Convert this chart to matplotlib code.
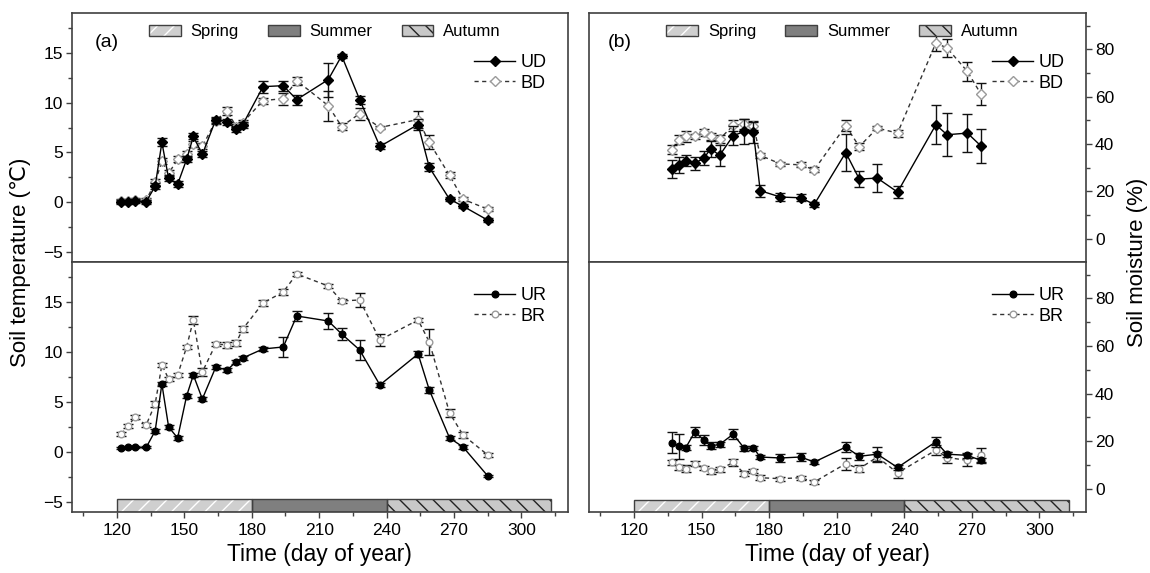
import matplotlib
matplotlib.use('Agg')
import matplotlib.pyplot as plt
from matplotlib.patches import Patch
from matplotlib.ticker import MultipleLocator
import numpy as np

plt.rcParams['font.family'] = ['Liberation Sans', 'DejaVu Sans']
plt.rcParams['hatch.linewidth'] = 1.0

# sampling days (day of year)
days = np.array([122, 125, 128, 133, 137, 140, 143, 147, 151, 154, 158, 164, 169,
                 173, 176, 185, 194, 200, 214, 220, 228, 237, 254, 259, 268, 274, 285])
days_m = days[4:26]

# soil temperature, dune sites
t_ud = [0.0, 0.05, 0.1, 0.05, 1.6, 6.0, 2.4, 1.8, 4.3, 6.6, 4.8, 8.3, 8.1, 7.3, 7.8,
        11.6, 11.7, 10.3, 12.3, 14.7, 10.3, 5.6, 7.8, 3.5, 0.3, -0.4, -1.8]
t_ud_err = [0.2, 0.2, 0.2, 0.2, 0.3, 0.4, 0.3, 0.3, 0.3, 0.3, 0.3, 0.3, 0.3, 0.3, 0.3,
            0.6, 0.5, 0.5, 1.7, 0.2, 0.4, 0.3, 0.6, 0.4, 0.2, 0.2, 0.2]
t_bd = [0.1, 0.1, 0.2, 0.2, 2.0, 4.1, 2.9, 4.3, 4.8, 5.8, 5.6, 8.2, 9.2, 7.6, 8.0,
        10.2, 10.4, 12.2, 9.7, 7.6, 8.9, 7.5, 8.3, 6.0, 2.7, 0.3, -0.7]
t_bd_err = [0.2, 0.2, 0.2, 0.2, 0.3, 0.3, 0.3, 0.3, 0.3, 0.3, 0.3, 0.3, 0.4, 0.3, 0.3,
            0.3, 0.6, 0.4, 1.5, 0.4, 0.6, 0.2, 0.9, 0.7, 0.3, 0.2, 0.2]

# soil temperature, river sites
t_ur = [0.4, 0.45, 0.45, 0.45, 2.1, 6.8, 2.5, 1.4, 5.6, 7.7, 5.3, 8.5, 8.2, 9.0, 9.4,
        10.3, 10.5, 13.6, 13.1, 11.8, 10.2, 6.7, 9.8, 6.2, 1.4, 0.5, -2.4]
t_ur_err = [0.1, 0.1, 0.1, 0.1, 0.2, 0.2, 0.2, 0.2, 0.2, 0.2, 0.2, 0.2, 0.2, 0.2, 0.2,
            0.2, 1.0, 0.5, 0.8, 0.6, 1.0, 0.2, 0.3, 0.3, 0.2, 0.2, 0.1]
t_br = [1.8, 2.6, 3.5, 2.7, 4.8, 8.7, 7.3, 7.7, 10.5, 13.2, 8.0, 10.8, 10.7, 10.9, 12.3,
        14.9, 16.0, 17.8, 16.6, 15.1, 15.2, 11.2, 13.2, 11.0, 3.9, 1.7, -0.3]
t_br_err = [0.2, 0.2, 0.2, 0.2, 0.3, 0.2, 0.2, 0.2, 0.2, 0.4, 0.4, 0.2, 0.3, 0.3, 0.3,
            0.3, 0.3, 0.2, 0.2, 0.2, 0.7, 0.6, 0.2, 1.3, 0.4, 0.3, 0.2]

# soil moisture, dune sites
m_ud = [29.5, 31.2, 33.0, 31.9, 34.0, 38.0, 35.2, 43.5, 45.3, 44.9, 20.3,
        17.6, 17.3, 14.5, 36.4, 25.2, 25.6, 19.7, 48.1, 43.9, 44.6, 39.2]
m_ud_err = [3.8, 3.5, 2.5, 2.8, 3.0, 3.3, 4.4, 4.0, 5.3, 4.5, 2.5,
            1.5, 1.5, 1.0, 7.7, 3.2, 5.8, 2.5, 8.3, 9.0, 8.0, 7.1]
m_bd = [37.6, 41.8, 43.2, 43.2, 44.9, 43.2, 42.1, 47.8, 48.5, 47.7, 35.2,
        31.6, 31.2, 29.1, 47.7, 38.9, 46.7, 44.6, 82.6, 80.5, 70.6, 61.1]
m_bd_err = [2.0, 2.0, 2.3, 1.0, 1.5, 1.5, 1.5, 2.5, 2.0, 2.0, 1.0,
            1.0, 1.0, 1.0, 2.3, 1.5, 1.0, 1.5, 3.5, 3.9, 3.9, 4.5]

# soil moisture, river sites
m_ur = [19.4, 17.8, 17.3, 23.9, 20.4, 18.0, 18.6, 22.9, 16.9, 17.1, 13.3,
        12.9, 13.3, 11.2, 17.5, 13.6, 14.5, 8.9, 19.7, 14.5, 14.0, 11.9]
m_ur_err = [4.6, 5.2, 1.0, 2.0, 2.0, 1.5, 1.0, 2.0, 1.0, 1.0, 1.0,
            1.5, 1.5, 1.0, 2.0, 1.5, 3.0, 1.0, 2.0, 1.0, 1.0, 1.0]
m_br = [11.0, 8.9, 8.4, 10.5, 8.7, 7.3, 8.1, 11.0, 6.3, 7.4, 4.6,
        4.2, 4.6, 2.8, 10.5, 8.4, 13.3, 6.6, 16.2, 13.1, 11.9, 14.0]
m_br_err = [1.0, 1.0, 1.5, 1.0, 1.0, 1.0, 1.0, 1.5, 1.0, 1.0, 1.0,
            0.8, 0.8, 0.8, 2.5, 1.5, 2.0, 2.0, 2.0, 2.5, 2.5, 3.0]

# seasons
seasons = ['Spring', 'Summer', 'Autumn']
season_start = [120, 180, 240]
season_end = [180, 240, 313]
season_face = ['#cfcfcf', '#7f7f7f', '#c8c8c8']
season_hatch = ['//', None, '\\\\']
season_hcolor = ['white', None, '#222222']

FRAME = '#404040'


def season_patches(ax, y0, h):
    for s0, s1, fc, ht, hc in zip(season_start, season_end, season_face,
                                  season_hatch, season_hcolor):
        if ht:
            ax.bar(s0, h, width=s1 - s0, bottom=y0, align='edge', color=fc,
                   hatch=ht, edgecolor=hc, linewidth=0, zorder=1)
        else:
            ax.bar(s0, h, width=s1 - s0, bottom=y0, align='edge', color=fc,
                   linewidth=0, zorder=1)
        ax.bar(s0, h, width=s1 - s0, bottom=y0, align='edge', fill=False,
               edgecolor=FRAME, linewidth=1, zorder=1.5)


def season_legend(ax):
    handles = []
    for fc, ht, hc in zip(season_face, season_hatch, season_hcolor):
        if ht:
            h = (Patch(facecolor=fc, hatch=ht, edgecolor=hc, linewidth=0),
                 Patch(fill=False, edgecolor=FRAME, linewidth=1))
        else:
            h = Patch(facecolor=fc, edgecolor=FRAME, linewidth=1)
        handles.append(h)
    leg = ax.legend(handles, seasons, loc='upper center', bbox_to_anchor=(0.51, 1.015),
                    ncol=3, frameon=False, fontsize=12, handlelength=1.9,
                    handleheight=0.7, handletextpad=0.6, columnspacing=1.75)
    ax.add_artist(leg)


def series(ax, x, y, err, marker, filled, ms, label):
    if filled:
        kw = dict(color='black', mfc='black', mec='black', ls='-')
    else:
        kw = dict(color='#333333', mfc='white', mec='#9a9a9a', ls=(0, (3, 2.5)))
    ax.errorbar(x, y, yerr=err, fmt='none', ecolor='#111111', elinewidth=1,
                capsize=3.5, capthick=1, zorder=3 if filled else 2)
    ax.plot(x, y, marker=marker, ms=ms, lw=1, mew=1, label=label,
            zorder=4 if filled else 2.5, **kw)


def style_axes(ax, right=False, bottom=False, ylim=(-6, 19), ymaj=5, ymin=2.5):
    ax.set_xlim(100, 320.7)
    ax.set_ylim(*ylim)
    ax.xaxis.set_major_locator(MultipleLocator(30))
    ax.xaxis.set_minor_locator(MultipleLocator(15))
    ax.yaxis.set_major_locator(MultipleLocator(ymaj))
    ax.yaxis.set_minor_locator(MultipleLocator(ymin))
    for sp in ax.spines.values():
        sp.set_color(FRAME)
        sp.set_linewidth(1.2)
    ax.tick_params(which='both', direction='out', colors=FRAME, labelcolor='black',
                   labelsize=12.5, width=1)
    ax.tick_params(which='major', length=4.5)
    ax.tick_params(which='minor', length=3)
    if right:
        ax.yaxis.tick_right()
        ax.tick_params(axis='y', which='both', left=False, right=True,
                       labelleft=False, labelright=True, pad=2)
    else:
        ax.tick_params(axis='y', which='both', right=False, pad=2)
    ax.tick_params(axis='x', which='both', top=False)
    if not bottom:
        ax.tick_params(axis='x', which='both', bottom=False, labelbottom=False)


fig = plt.figure(figsize=(11.5, 5.73), dpi=100)

ax_a1 = fig.add_axes([0.0626, 0.5428, 0.4313, 0.4346])
ax_a2 = fig.add_axes([0.0626, 0.1065, 0.4313, 0.4363])
ax_b1 = fig.add_axes([0.5122, 0.5428, 0.4322, 0.4346])
ax_b2 = fig.add_axes([0.5122, 0.1065, 0.4322, 0.4363])

# (a) soil temperature
series(ax_a1, days, t_bd, t_bd_err, 'D', False, 5, 'BD')
series(ax_a1, days, t_ud, t_ud_err, 'D', True, 5, 'UD')
series(ax_a2, days, t_br, t_br_err, 'o', False, 4.8, 'BR')
series(ax_a2, days, t_ur, t_ur_err, 'o', True, 4.8, 'UR')
season_patches(ax_a2, -6, 1.25)

# (b) soil moisture
series(ax_b1, days_m, m_bd, m_bd_err, 'D', False, 5, 'BD')
series(ax_b1, days_m, m_ud, m_ud_err, 'D', True, 5, 'UD')
series(ax_b2, days_m, m_br, m_br_err, 'o', False, 4.8, 'BR')
series(ax_b2, days_m, m_ur, m_ur_err, 'o', True, 4.8, 'UR')
season_patches(ax_b2, -9.8, 5.2)

style_axes(ax_a1)
style_axes(ax_a2, bottom=True)
style_axes(ax_b1, right=True, ylim=(-9.8, 95.3), ymaj=20, ymin=10)
style_axes(ax_b2, right=True, bottom=True, ylim=(-9.8, 95.3), ymaj=20, ymin=10)

for ax in (ax_a1, ax_b1):
    season_legend(ax)

for ax in (ax_a1, ax_a2, ax_b1, ax_b2):
    h, l = ax.get_legend_handles_labels()
    anchor = (0.99, 0.90) if ax in (ax_a1, ax_b1) else (0.99, 0.965)
    ax.legend(h[::-1], l[::-1], loc='upper right', bbox_to_anchor=anchor,
              frameon=False, fontsize=13, handlelength=2.3, handletextpad=0.3,
              labelspacing=0.2, numpoints=1)

ax_a1.text(0.046, 0.88, '(a)', transform=ax_a1.transAxes, fontsize=14,
           ha='left', va='center')
ax_b1.text(0.038, 0.88, '(b)', transform=ax_b1.transAxes, fontsize=14,
           ha='left', va='center')

fig.text(0.018, 0.542, 'Soil temperature (℃)', rotation=90, fontsize=16,
         ha='center', va='center')
fig.text(0.989, 0.542, 'Soil moisture (%)', rotation=90, fontsize=16,
         ha='center', va='center')
fig.text(0.278, 0.033, 'Time (day of year)', fontsize=16.5, ha='center', va='center')
fig.text(0.728, 0.033, 'Time (day of year)', fontsize=16.5, ha='center', va='center')

fig.savefig('out.png', dpi=100)
